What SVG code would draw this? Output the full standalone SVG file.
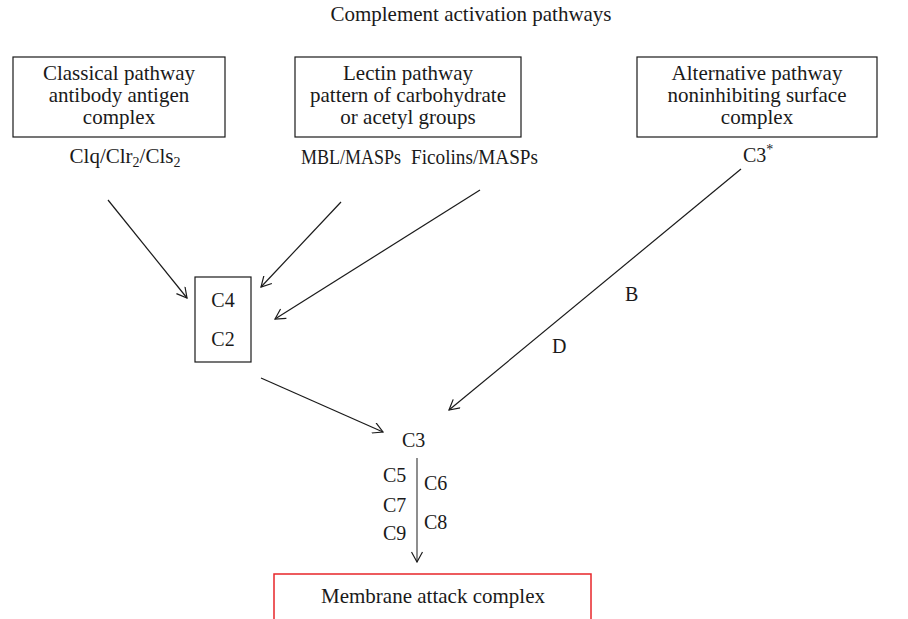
<svg xmlns="http://www.w3.org/2000/svg" width="908" height="619" viewBox="0 0 908 619">
<defs>
<style>
text{font-family:"Liberation Serif","Times New Roman",serif;font-size:21px;fill:#1a1a1a}
.box{fill:#fff;stroke:#1a1a1a;stroke-width:1.2}
.mac{fill:#fff;stroke:#e8262a;stroke-width:1.5}
.c{text-anchor:middle}
.sm{font-size:20px}
.edge{fill:none;stroke:#1a1a1a;stroke-width:1.2;marker-end:url(#ah)}
.sub{font-size:14px}
</style>
<marker id="ah" viewBox="0 0 12 12" refX="11" refY="6" markerWidth="12" markerHeight="12" markerUnits="userSpaceOnUse" orient="auto">
<path d="M1,0.5 L11,6 L1,11.5" fill="none" stroke="#1a1a1a" stroke-width="1.2"/>
</marker>
</defs>
<rect width="908" height="619" fill="#fff"/>
<text id="title" class="c" x="471" y="21">Complement activation pathways</text>

<g id="classical">
<rect class="box" x="13" y="57" width="212" height="80"/>
<text class="c" x="119" y="80">Classical pathway</text>
<text class="c" x="119" y="102">antibody antigen</text>
<text class="c" x="119" y="124">complex</text>
</g>
<g id="lectin">
<rect class="box" x="295" y="57" width="226" height="80"/>
<text class="c" x="408" y="80">Lectin pathway</text>
<text class="c" x="408" y="102">pattern of carbohydrate</text>
<text class="c" x="408" y="124">or acetyl groups</text>
</g>
<g id="alternative">
<rect class="box" x="637" y="57" width="240" height="80"/>
<text class="c" x="757" y="80">Alternative pathway</text>
<text class="c" x="757" y="102">noninhibiting surface</text>
<text class="c" x="757" y="124">complex</text>
</g>
<g id="c1">
<text class="c" x="125" y="163">Clq/Clr<tspan class="sub" dy="4">2</tspan><tspan dy="-4">/Cls</tspan><tspan class="sub" dy="4">2</tspan></text>
</g>
<g id="mbl"><text class="sm" x="301" y="164" textLength="100" lengthAdjust="spacingAndGlyphs">MBL/MASPs</text></g>
<g id="ficolins"><text class="sm" x="411" y="164" textLength="127" lengthAdjust="spacingAndGlyphs">Ficolins/MASPs</text></g>
<g id="c3star"><text class="sm" x="743" y="162">C3<tspan class="sub" dy="-8">*</tspan></text></g>

<g id="c4c2">
<rect class="box" x="195" y="277" width="56" height="85"/>
<text class="c sm" x="223" y="307">C4</text>
<text class="c sm" x="223" y="346">C2</text>
</g>
<g id="c3"><text class="sm" x="402" y="447">C3</text></g>
<g id="terminal">
<text class="sm" x="383" y="482">C5</text>
<text class="sm" x="383" y="512">C7</text>
<text class="sm" x="383" y="540">C9</text>
<text class="sm" x="424" y="490">C6</text>
<text class="sm" x="424" y="529">C8</text>
</g>
<g id="mac">
<rect class="mac" x="274" y="574" width="317" height="60"/>
<text class="c" x="433" y="603">Membrane attack complex</text>
</g>

<g id="connectors">
<line class="edge" x1="108" y1="200" x2="187" y2="298"/>
<line class="edge" x1="341" y1="202" x2="261" y2="287"/>
<line class="edge" x1="480" y1="190" x2="275" y2="319"/>
<line class="edge" x1="741" y1="169" x2="449" y2="410"/>
<line class="edge" x1="261" y1="378" x2="383" y2="432"/>
<line class="edge" style="stroke:#444" x1="417" y1="458" x2="417" y2="562"/>
<text class="sm" x="625" y="301">B</text>
<text class="sm" x="552" y="353">D</text>
</g>
</svg>
